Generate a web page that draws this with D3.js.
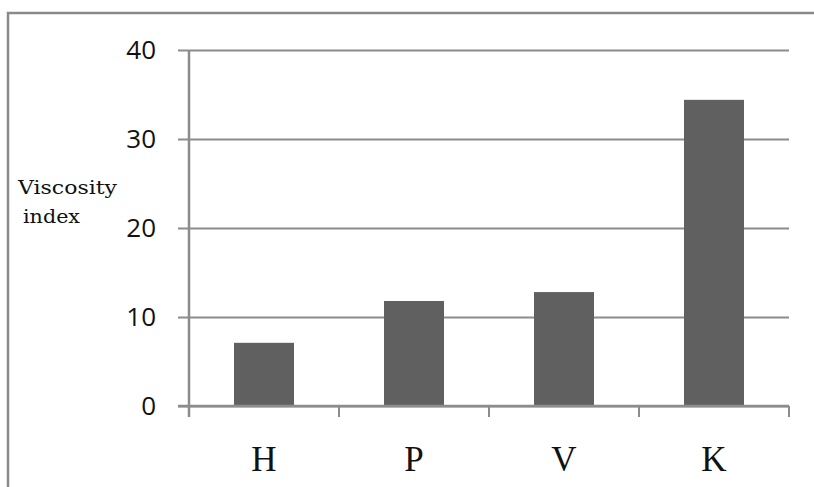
<!DOCTYPE html>
<html>
<head>
<meta charset="utf-8">
<script src="https://cdn.jsdelivr.net/npm/d3@7/dist/d3.min.js"></script>
<style>
  html, body { margin: 0; padding: 0; background: #fff; overflow: hidden; }
  svg { display: block; }
</style>
</head>
<body>
<svg id="chart" width="814" height="487"></svg>
<script>
const categories = ["H", "P", "V", "K"];
const values = [7.1, 11.8, 12.8, 34.4];
const yTicks = [0, 10, 20, 30, 40];
const yLabelLines = ["Viscosity", "index"];

(function () {
const svg = d3.select("#chart");
const pLeft = 189, pRight = 789, pTop = 50, pBottom = 406;

// outer frame: only top and left edges are visible in the picture
svg.append("path")
  .attr("d", "M8,487 L8,13 L814,13")
  .attr("fill", "none").attr("stroke", "#8a8a8a").attr("stroke-width", 2.5);

const y = d3.scaleLinear().domain([0, 40]).range([pBottom, pTop]);
const x = d3.scaleBand().domain(categories).range([pLeft, pRight])
  .paddingInner(0.6).paddingOuter(0.3);
const xb = d3.scaleBand().domain(categories).range([pLeft, pRight]).padding(0);

// gridlines (including zero) via axis
const gAxisY = svg.append("g").attr("transform", `translate(${pRight},0)`)
  .call(d3.axisLeft(y).tickValues(yTicks).tickSize(pRight - pLeft + 11).tickFormat(""));
gAxisY.select(".domain").remove();
gAxisY.selectAll(".tick line").attr("stroke", "#8c8c8c").attr("stroke-width", 2);

// tick labels
svg.append("g").selectAll("text").data(yTicks).join("text")
  .attr("x", 156).attr("y", d => y(d)).attr("dy", "0.36em")
  .attr("text-anchor", "end")
  .attr("font-family", "'Open Sans', 'DejaVu Sans', sans-serif")
  .attr("font-size", 26).attr("fill", "#111")
  .text(d => d);

// bars
svg.append("g").selectAll("rect").data(values).join("rect")
  .attr("x", (d, i) => x(categories[i]))
  .attr("width", x.bandwidth())
  .attr("y", d => y(d))
  .attr("height", d => y(0) - y(d))
  .attr("fill", "#606060");

// y axis line
svg.append("line").attr("x1", pLeft).attr("x2", pLeft)
  .attr("y1", pTop).attr("y2", pBottom + 11)
  .attr("stroke", "#8c8c8c").attr("stroke-width", 2.5);

// x axis line + ticks at category boundaries
svg.append("line").attr("x1", pLeft - 11).attr("x2", pRight)
  .attr("y1", pBottom).attr("y2", pBottom)
  .attr("stroke", "#8c8c8c").attr("stroke-width", 2.5);
const boundaries = categories.map(c => xb(c)).concat([xb(categories[categories.length - 1]) + xb.bandwidth()]);
svg.append("g").selectAll("line").data(boundaries.slice(1)).join("line")
  .attr("x1", d => d).attr("x2", d => d)
  .attr("y1", pBottom).attr("y2", pBottom + 11)
  .attr("stroke", "#8c8c8c").attr("stroke-width", 2);

// x labels
svg.append("g").selectAll("text").data(categories).join("text")
  .attr("x", d => xb(d) + xb.bandwidth() / 2)
  .attr("y", 471)
  .attr("text-anchor", "middle")
  .attr("font-family", "'Liberation Serif', 'Times New Roman', serif")
  .attr("font-size", 35).attr("fill", "#111")
  .text(d => d);

// y label
svg.append("text").attr("x", 18).attr("y", 194)
  .attr("font-family", "'DejaVu Serif', serif").attr("font-size", 19)
  .attr("textLength", 99).attr("lengthAdjust", "spacingAndGlyphs")
  .attr("fill", "#111").text(yLabelLines[0]);
svg.append("text").attr("x", 23).attr("y", 223)
  .attr("font-family", "'DejaVu Serif', serif").attr("font-size", 19)
  .attr("textLength", 57).attr("lengthAdjust", "spacingAndGlyphs")
  .attr("fill", "#111").text(yLabelLines[1]);
})();
</script>
</body>
</html>
